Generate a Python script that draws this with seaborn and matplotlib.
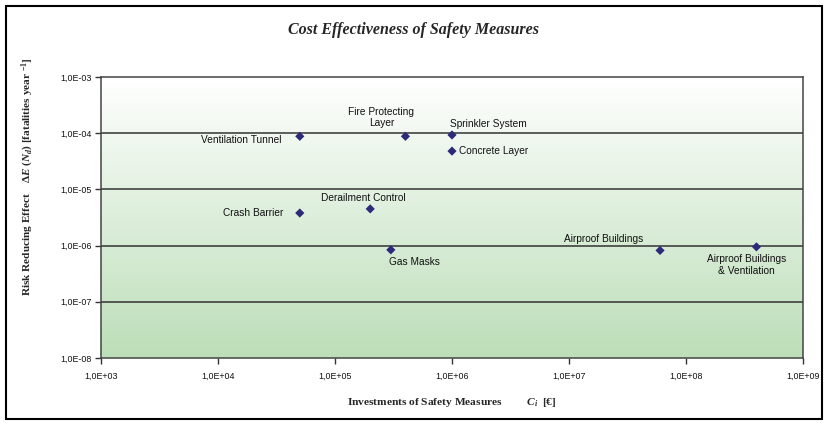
import numpy as np
import pandas as pd
import matplotlib
matplotlib.use("Agg")
import matplotlib.pyplot as plt
import matplotlib.patches as mpatches
import seaborn as sns

# ---- data ----
measures = ["Ventilation Tunnel", "Fire Protecting\nLayer", "Sprinkler System", "Concrete Layer",
            "Crash Barrier", "Derailment Control", "Gas Masks", "Airproof Buildings",
            "Airproof Buildings\n& Ventilation"]
investment = [5e4, 4e5, 1e6, 1e6, 5e4, 2e5, 3e5, 6e7, 4e8]
risk_reduction = [8.8e-5, 8.8e-5, 9.3e-5, 4.8e-5, 3.8e-6, 4.5e-6, 8.4e-7, 8.2e-7, 9.5e-7]

x_ticks = [1e3, 1e4, 1e5, 1e6, 1e7, 1e8, 1e9]
x_tick_labels = ["1,0E+03", "1,0E+04", "1,0E+05", "1,0E+06", "1,0E+07", "1,0E+08", "1,0E+09"]
y_ticks = [1e-8, 1e-7, 1e-6, 1e-5, 1e-4, 1e-3]
y_tick_labels = ["1,0E-08", "1,0E-07", "1,0E-06", "1,0E-05", "1,0E-04", "1,0E-03"]

# label placement (pixel offsets, alignment)
label_offsets = [(-18, -4, "right"), (-24, 19, "center"), (-2, 11, "left"), (7, 0, "left"),
                 (-16, 0, "right"), (-49, 11, "left"), (-2, -12, "left"), (-17, 11, "right"),
                 (-10, -18, "center")]

df = pd.DataFrame({"measure": measures, "investment": investment, "risk": risk_reduction})

sns.set_theme(style="white")
plt.rcParams["font.family"] = ["Liberation Sans", "DejaVu Sans"]
plt.rcParams["mathtext.fontset"] = "custom"
plt.rcParams["mathtext.it"] = "Liberation Serif:italic:bold"
plt.rcParams["mathtext.rm"] = "Liberation Serif:bold"

W, H = 824, 423
fig = plt.figure(figsize=(W / 100, H / 100), dpi=100)
ax = fig.add_axes([101 / W, 1 - 358 / H, (803 - 101) / W, (358 - 77) / H])

# gradient background
n = 256
t = np.linspace(0, 1, n)[:, None]
top = np.array([1.0, 1.0, 1.0])
bottom = np.array([188, 222, 184]) / 255
grad = top[None, None, :] * (1 - t[..., None]) + bottom[None, None, :] * t[..., None]
grad = np.repeat(grad, 2, axis=1)
ax.imshow(grad, extent=[0, 1, 0, 1], transform=ax.transAxes, aspect="auto", zorder=0)

sns.scatterplot(data=df, x="investment", y="risk", marker="D", s=22, color="#2d2a7a",
                edgecolor="none", ax=ax, zorder=3, legend=False)

ax.set_xscale("log")
ax.set_yscale("log")
ax.set_xlim(1e3, 1e9)
ax.set_ylim(1e-8, 1e-3)
ax.minorticks_off()
ax.set_xticks(x_ticks)
ax.set_xticklabels(x_tick_labels)
ax.set_yticks(y_ticks)
ax.set_yticklabels(y_tick_labels)
ax.tick_params(axis="both", which="major", direction="out", length=4, width=1, color="#333333",
               labelsize=6.4, pad=3, bottom=True, left=True, labelcolor="#111111")
ax.tick_params(axis="x", pad=6)

for yv in y_ticks[1:-1]:
    ax.axhline(yv, color="#333333", lw=1.1, zorder=1)

for sp in ax.spines.values():
    sp.set_color("#444444")
    sp.set_linewidth(1.1)

for name, xv, yv, (dx, dy, ha) in zip(measures, investment, risk_reduction, label_offsets):
    ax.annotate(name, (xv, yv), xytext=(dx, dy), textcoords="offset pixels",
                ha=ha, va="center", multialignment="center", fontsize=7.3,
                color="#111111", zorder=4, linespacing=1.2)

ax.set_xlabel("")
ax.set_ylabel("")

serif = ["Liberation Serif", "DejaVu Serif"]
fig.text(413 / W, 1 - 30 / H, "Cost Effectiveness of Safety Measures", ha="center", va="center",
         fontsize=11.5, style="italic", weight="bold", family=serif)
fig.text(452 / W, 1 - 402 / H, r"Investments of Safety Measures         $C_i$  [€]",
         ha="center", va="center", fontsize=8.2, weight="bold", family=serif)
fig.text(28 / W, 1 - 177 / H,
         r"Risk Reducing Effect    $\Delta E\ (N_d)$ [fatalities year $^{-1}$]",
         ha="center", va="center", rotation=90, fontsize=8.1, weight="bold", family=serif)

fig.patches.append(mpatches.Rectangle((6 / W, 1 - 419 / H), (822 - 6) / W, (419 - 6) / H,
                                      transform=fig.transFigure, fill=False,
                                      edgecolor="black", lw=1.5, zorder=10))

fig.savefig("out.png", dpi=100)
